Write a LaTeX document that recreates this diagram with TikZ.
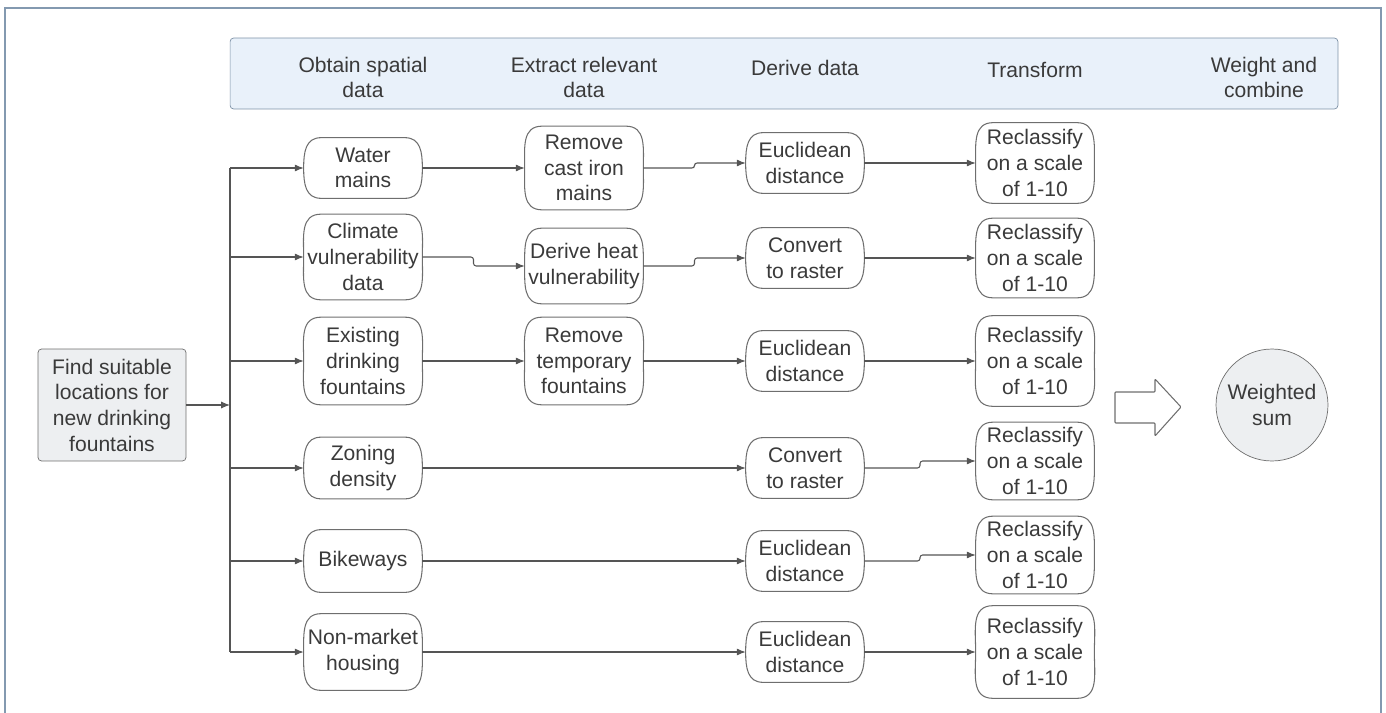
\documentclass[tikz,border=0pt]{standalone}
\usepackage{fontspec}
\setmainfont{Liberation Sans}
\usepackage{xcolor}
\usepackage{tikz}
\usetikzlibrary{arrows.meta,calc,positioning}
\definecolor{inkgray}{HTML}{3A3A3A}
\definecolor{edgegray}{HTML}{555555}
\definecolor{bordergray}{HTML}{6E6E6E}
\definecolor{headfill}{HTML}{E9F1FA}
\definecolor{headline}{HTML}{7D91A6}
\definecolor{framecol}{HTML}{8399B0}
\definecolor{boxfill}{HTML}{EDEFF1}
% box with flat top/bottom and half-elliptic ends
\tikzstyle{stage} = [rectangle, inner sep=0pt, align=center, minimum width=2.36cm,
    minimum height=1.2cm,
    append after command={\pgfextra{\let\sn\tikzlastnode
      \draw[bordergray, line width=0.6pt, looseness=1.15]
        ($(\sn.north west)+(0.35cm,0)$) -- ($(\sn.north east)+(-0.35cm,0)$)
        to[out=0,in=90] (\sn.east) to[out=-90,in=0] ($(\sn.south east)+(-0.35cm,0)$)
        -- ($(\sn.south west)+(0.35cm,0)$)
        to[out=180,in=-90] (\sn.west) to[out=90,in=180] ($(\sn.north west)+(0.35cm,0)$) -- cycle;}}]
\tikzstyle{goal} = [rectangle, draw=bordergray, fill=boxfill, rounded corners=2pt,
    inner sep=0pt, align=center, minimum width=2.96cm, minimum height=2.24cm]
\tikzstyle{line} = [draw=edgegray, line width=0.6pt, -{Latex[length=5pt,width=4pt]}]
\tikzstyle{heading} = [align=center]

\begin{document}
\begin{tikzpicture}[x=0.02cm, y=-0.02cm, node distance=2cm]
\tikzstyle{every node}=[font=\fontsize{12}{14.6}\selectfont, text=inkgray]
    \useasboundingbox (0,0) rectangle (1386,713);
    % outer frame and heading band
    \draw[framecol, line width=1.2pt] (5,713) -- (5,8) -- (1381,8) -- (1381,713);
    \node[draw=headline, fill=headfill, rounded corners=2pt, minimum width=22.16cm,
        minimum height=1.42cm] (band) at (784,73.5) {};
    \node[heading] (hobtain) at (363,77.5) {Obtain spatial\\data};
    \node[heading] (hextract) at (584,77.5) {Extract relevant\\data};
    \node[heading] (hderive) at (805,68) {Derive data};
    \node[heading] (htransform) at (1035,70) {Transform};
    \node[heading] (hweight) at (1264,77.5) {Weight and\\combine};

    % place the nodes
    \node[goal] (goal) at (112,405) {Find suitable\\locations for\\new drinking\\fountains};

    \node[stage] (water) at (363,168) {Water\\mains};
    \node[stage, minimum height=1.7cm] (climate) at (363,257) {Climate\\vulnerability\\data};
    \node[stage, minimum height=1.74cm] (exist) at (363,361) {Existing\\drinking\\fountains};
    \node[stage, minimum height=1.22cm] (zoning) at (363,468) {Zoning\\density};
    \node[stage, minimum height=1.24cm] (bike) at (363,561) {Bikeways};
    \node[stage, minimum height=1.52cm] (nonmkt) at (363,652) {Non-market\\housing};

    \node[stage, minimum height=1.66cm] (castiron) at (584,168) {Remove\\cast iron\\mains};
    \node[stage, minimum height=1.5cm] (heat) at (584,266) {Derive heat\\vulnerability};
    \node[stage, minimum height=1.74cm] (temp) at (584,361) {Remove\\temporary\\fountains};

    \node[stage] (euc1) at (805,163) {Euclidean\\distance};
    \node[stage] (conv2) at (805,258) {Convert\\to raster};
    \node[stage] (euc3) at (805,361) {Euclidean\\distance};
    \node[stage] (conv4) at (805,468) {Convert\\to raster};
    \node[stage] (euc5) at (805,561) {Euclidean\\distance};
    \node[stage] (euc6) at (805,652) {Euclidean\\distance};

    \foreach \n/\y/\h in {recl1/163/1.6cm, recl2/258/1.58cm, recl3/361/1.8cm,
                          recl4/461/1.54cm, recl5/555/1.54cm, recl6/652/1.84cm}
        \node[stage, minimum height=\h] (\n) at (1035,\y) {Reclassify\\on a scale\\of 1-10};

    \node[circle, draw=bordergray, fill=boxfill, minimum size=2.24cm, inner sep=0pt,
        align=center] (wsum) at (1272,405) {Weighted\\sum};
    % hollow arrow towards the weighted sum
    \draw[bordergray, line width=0.6pt, fill=white, rounded corners=0.5pt]
        (1115,392) -- (1155,392) -- (1155,379) -- (1181,407) -- (1155,436)
        -- (1155,423) -- (1115,423) -- cycle;

    % draw the edges
    \coordinate (ttop) at (230,168);
    \coordinate (tbot) at (230,652);
    \draw[edgegray, line width=0.6pt] (ttop) -- (tbot);
    \path[line] (goal.east) -- (goal.east -| ttop);
    \foreach \n in {water,climate,exist,zoning,bike,nonmkt}
        \path[line] (\n.west -| ttop) -- (\n.west);
    % straight links
    \foreach \a/\b in {water/castiron, euc1/recl1, conv2/recl2, exist/temp, temp/euc3,
                       euc3/recl3, zoning/conv4, bike/euc5, nonmkt/euc6, euc6/recl6}
        \path[line] (\a.east) -- (\b.west);
    % links with a small step half way
    \foreach \a/\b in {castiron/euc1, climate/heat, heat/conv2,
                       conv4/recl4, euc5/recl5} {
        \path (\a.east) -- (\b.west) coordinate[pos=.5] (mid);
        \path[line, rounded corners=1.5pt] (\a.east) -- (\a.east -| mid)
            -- (mid |- \b.west) -- (\b.west);
    }
\end{tikzpicture}
\end{document}
